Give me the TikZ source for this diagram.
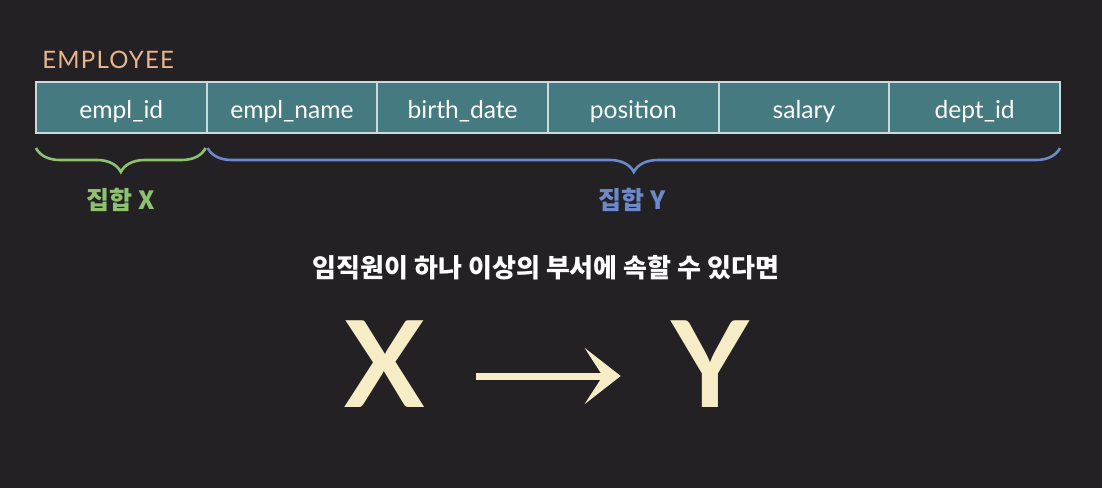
\documentclass[tikz,border=0pt]{standalone}
\usepackage{fontspec}
\setmainfont{Lato}
\newfontfamily\kor{Noto Sans CJK KR}
\usetikzlibrary{positioning,decorations.pathreplacing,arrows.meta}
\definecolor{bg}{HTML}{232124}
\definecolor{cellfill}{HTML}{457A80}
\definecolor{cellline}{HTML}{C9DADB}
\definecolor{tname}{HTML}{E9B58C}
\definecolor{setx}{HTML}{8EC270}
\definecolor{sety}{HTML}{6C89CB}
\definecolor{fdcol}{HTML}{F6ECC6}
\begin{document}
\begin{tikzpicture}[x=0.5pt,y=-0.5pt,
    attr/.style={draw=cellline,fill=cellfill,text=white,line width=0.9pt,
      minimum width=85.33pt,minimum height=25.5pt,inner sep=0pt,outer sep=0pt,
      text height=11pt,text depth=0pt,font=\fontsize{12.3}{14}\selectfont},
    setbrace/.style={decorate,decoration={brace,amplitude=12pt},line width=1.3pt},
    setlabel/.style={font=\kor\bfseries\fontsize{12.5}{14}\selectfont},
    bigset/.style={text=fdcol,inner sep=0pt,font=\fontsize{60}{60}\selectfont\bfseries}]
  \fill[bg] (0,0) rectangle (1102,488);
  \useasboundingbox (0,0) rectangle (1102,488);

  \node[anchor=west,text=tname,inner sep=0pt,font=\fontsize{12}{13}\selectfont\addfontfeatures{LetterSpace=5}] (tbl) at (42,60) {EMPLOYEE};
  \node[attr,anchor=north west] (c1) at (36,82) {empl\_id};
  \foreach \name [count=\i from 2] in {empl\_name,birth\_date,position,salary,dept\_id}
    {\pgfmathtruncatemacro\j{\i-1}
     \node[attr,right=0pt of c\j] (c\i) {\name};}

  \coordinate (xl) at ([yshift=-7.5pt]c1.south west);
  \coordinate (xr) at ([yshift=-7.5pt,xshift=-0.5pt]c1.south east);
  \coordinate (yl) at ([yshift=-7.5pt,xshift=0.5pt]c2.south west);
  \coordinate (yr) at ([yshift=-7.5pt]c6.south east);
  \draw[setbrace,setx] (xr) -- (xl);
  \draw[setbrace,sety] (yr) -- (yl);
  \node[setlabel,text=setx] (lx) at (121,200) {집합 X};
  \node[setlabel,text=sety] (ly) at (632,200) {집합 Y};

  \node[text=white,font=\kor\bfseries\fontsize{13}{15}\selectfont] (cond) at (546,268) {임직원이 하나 이상의 부서에 속할 수 있다면};

  \node[bigset,anchor=base] (X) at (385,407) {X};
  \node[bigset,anchor=base] (Y) at (710,407) {Y};
  \draw[fdcol,line width=3.5pt,-{Stealth[length=18pt,width=28pt,inset=9pt]}]
    ([shift={(25pt,15.5pt)}]X.base east) -- ([shift={(-25pt,15.5pt)}]Y.base west);
\end{tikzpicture}
\end{document}
